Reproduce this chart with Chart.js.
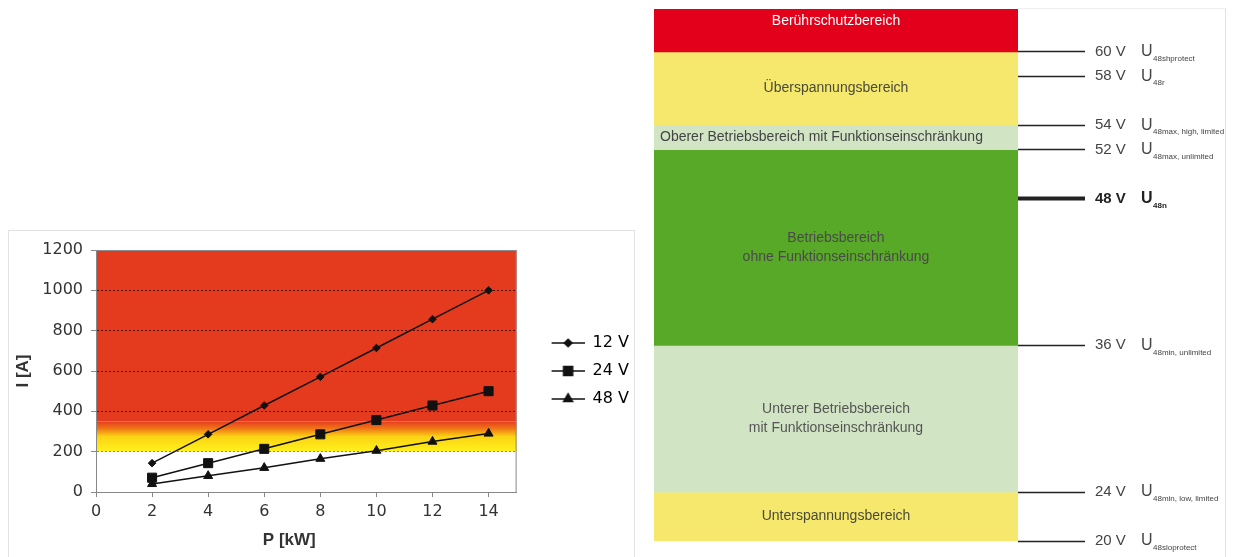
<!DOCTYPE html>
<html>
<head>
<meta charset="utf-8">
<script src="https://cdn.jsdelivr.net/npm/chart.js@4"></script>
<style>
  html, body { margin: 0; padding: 0; background: #fff; width: 1235px; height: 557px; overflow: hidden; }
  #leftBox { position: absolute; left: 8px; top: 230px; width: 625px; height: 340px; border: 1px solid #e3e3e3; }
  #leftWrap { position: absolute; left: 9px; top: 231px; width: 630px; height: 326px; }
  #rightWrap { position: absolute; left: 650px; top: 0; width: 585px; height: 557px; }
  #frame { position: absolute; left: 1018px; top: 8px; width: 207px; height: 560px; border-top: 1px solid #eee; border-right: 1px solid #e2e2e2; }
</style>
</head>
<body>
<div id="leftBox"></div>
<div id="frame"></div>
<div id="leftWrap"><canvas id="currentChart"></canvas></div>
<div id="rightWrap"><canvas id="voltageChart"></canvas></div>
<script>
// left chart: current vs power
const powerKW = [2, 4, 6, 8, 10, 12, 14];
const amps12V = [143, 286, 429, 571, 714, 857, 1000];
const amps24V = [71, 143, 214, 286, 357, 429, 500];
const amps48V = [40, 80, 120, 165, 205, 250, 290];
const seriesNames = ['12 V', '24 V', '48 V'];
const xTicksKW = [0, 2, 4, 6, 8, 10, 12, 14];
const yTicksA = [0, 200, 400, 600, 800, 1000, 1200];

// right chart: 48 V voltage ranges
const bandNames = [
  'Berührschutzbereich',
  'Überspannungsbereich',
  'Oberer Betriebsbereich mit Funktionseinschränkung',
  'Betriebsbereich\nohne Funktionseinschränkung',
  'Unterer Betriebsbereich\nmit Funktionseinschränkung',
  'Unterspannungsbereich'
];
const bandLowV = [60, 54, 52, 36, 24, 20];
const bandHighV = [63.5, 60, 54, 52, 36, 24];
const markerV = [60, 58, 54, 52, 48, 36, 24, 20];
const markerSub = ['48shprotect', '48r', '48max, high, limited', '48max, unlimited', '48n', '48min, unlimited', '48min, low, limited', '48sloprotect'];

const bandColors = ['#e2001a', '#f5e86c', '#d1e5c4', '#58a927', '#d1e5c4', '#f5e86c'];
const bandTextColors = ['#ffffff', '#4a4a3a', '#444', '#4a4a4a', '#555', '#4a4a3a'];

const FONT = "'Liberation Sans', Arial, sans-serif";
const AXIS_FONT = "'DejaVu Sans', sans-serif";
const RED_FROM = 350, YELLOW_TO = 200;

const pointStyles = ['rectRot', 'rect', 'triangle'];
const pointSizes = [3.8, 6.4, 5.2];
const ICON_W = 56;

const makeLegendIcon = (i) => {
  const c = document.createElement('canvas');
  c.width = ICON_W;
  c.height = 14;
  const g = c.getContext('2d');
  const x0 = ICON_W - 33;
  g.strokeStyle = '#111';
  g.lineWidth = 1.5;
  g.beginPath();
  g.moveTo(x0, 7);
  g.lineTo(ICON_W, 7);
  g.stroke();
  g.fillStyle = '#111';
  Chart.helpers.drawPoint(g, { pointStyle: pointStyles[i], radius: pointSizes[i], borderWidth: 1 }, x0 + 16.5, 7);
  g.fill();
  return c;
};

const zoneBg = {
  id: 'zoneBg',
  beforeDraw(chart) {
    const { ctx, chartArea: a, scales: { y } } = chart;
    const yRed = y.getPixelForValue(RED_FROM);
    const yYel = y.getPixelForValue(YELLOW_TO);
    ctx.save();
    ctx.fillStyle = '#e43b1f';
    ctx.fillRect(a.left, a.top, a.width, yRed - a.top);
    const grad = ctx.createLinearGradient(0, yRed, 0, yYel);
    grad.addColorStop(0, '#e43b1f');
    grad.addColorStop(0.25, '#f07a15');
    grad.addColorStop(0.5, '#fbd214');
    grad.addColorStop(1, '#fff21c');
    ctx.fillStyle = grad;
    ctx.fillRect(a.left, yRed, a.width, yYel - yRed);
    ctx.restore();
  },
  beforeDatasetsDraw(chart) {
    const { ctx, chartArea: a } = chart;
    ctx.save();
    ctx.strokeStyle = '#8a8a8a';
    ctx.lineWidth = 1;
    ctx.beginPath();
    ctx.moveTo(a.left, a.top + 0.5);
    ctx.lineTo(a.right - 0.5, a.top + 0.5);
    ctx.lineTo(a.right - 0.5, a.bottom);
    ctx.stroke();
    ctx.restore();
  }
};

const leftSeries = [amps12V, amps24V, amps48V];

new Chart(document.getElementById('currentChart'), {
  type: 'line',
  data: {
    datasets: leftSeries.map((arr, i) => ({
      label: seriesNames[i],
      data: powerKW.map((p, j) => ({ x: p, y: arr[j] })),
      borderColor: '#111',
      backgroundColor: '#111',
      borderWidth: 1.5,
      pointStyle: pointStyles[i],
      pointRadius: pointSizes[i],
      pointBorderWidth: 1,
      tension: 0
    }))
  },
  options: {
    responsive: true,
    maintainAspectRatio: false,
    animation: false,
    layout: { padding: { left: 0, right: 0, top: 19, bottom: 0 } },
    plugins: {
      tooltip: { enabled: false },
      legend: {
        position: 'right',
        align: 'center',
        fullSize: false,
        labels: {
          usePointStyle: true,
          pointStyleWidth: ICON_W,
          padding: 12,
          color: '#333',
          font: { family: AXIS_FONT, size: 16 },
          generateLabels: (chart) => chart.data.datasets.map((ds, i) => ({
            text: ds.label,
            pointStyle: makeLegendIcon(i),
            fillStyle: '#111',
            strokeStyle: '#111',
            lineWidth: 0,
            hidden: false,
            datasetIndex: i
          }))
        }
      }
    },
    scales: {
      x: {
        type: 'linear',
        min: 0,
        max: 15,
        afterBuildTicks: (s) => { s.ticks = xTicksKW.map((v) => ({ value: v })); },
        afterFit: (s) => { s.height = 65; },
        grid: { drawOnChartArea: false, tickLength: 5, tickColor: '#888' },
        border: { color: '#888', width: 1 },
        ticks: { color: '#333', padding: 5, font: { family: AXIS_FONT, size: 16 } },
        title: { display: true, text: 'P [kW]\u2003\u2003', color: '#333', padding: { top: 4, bottom: 6 }, font: { family: FONT, size: 17, weight: 'bold' } }
      },
      y: {
        min: 0,
        max: 1200,
        afterBuildTicks: (s) => { s.ticks = yTicksA.map((v) => ({ value: v })); },
        afterFit: (s) => { s.width = 87; },
        grid: {
          color: (c) => (c.tick.value === 0 || c.tick.value === 1200) ? 'rgba(0,0,0,0)' : (c.tick.value === 200 ? '#8c8c60' : 'rgba(60,5,0,0.9)'),
          lineWidth: 1,
          tickBorderDash: [],
          tickColor: '#888',
          tickLength: 5
        },
        border: { color: '#888', width: 1, dash: [2, 2] },
        ticks: { color: '#333', padding: 8, font: { family: AXIS_FONT, size: 16 }, callback: (v) => String(v) },
        title: { display: true, text: 'I [A]', color: '#333', padding: { top: 4, bottom: 4 }, font: { family: FONT, size: 17, weight: 'bold' } }
      }
    }
  },
  plugins: [zoneBg]
});

// band captions and symbol subscripts on the right chart
const bandText = {
  id: 'bandText',
  afterDatasetsDraw(chart) {
    const { ctx, chartArea: a } = chart;
    ctx.save();
    ctx.font = `14px ${FONT}`;
    ctx.textBaseline = 'middle';
    chart.data.datasets.forEach((ds, i) => {
      const bar = chart.getDatasetMeta(i).data[0];
      const lines = bandNames[i].split('\n');
      let cy = (bar.y + bar.base) / 2;
      if (i === 0) cy = bar.y + 12;
      const x = i === 2 ? a.left + 6 : (a.left + a.right) / 2;
      ctx.textAlign = i === 2 ? 'left' : 'center';
      ctx.fillStyle = bandTextColors[i];
      lines.forEach((ln, k) => {
        ctx.fillText(ln, x, cy + (k - (lines.length - 1) / 2) * 19);
      });
    });
    ctx.restore();
  },
  afterDraw(chart) {
    const { ctx, chartArea: a, scales: { y } } = chart;
    ctx.save();
    ctx.textBaseline = 'middle';
    ctx.textAlign = 'left';
    markerV.forEach((v, i) => {
      const py = y.getPixelForValue(v);
      const bold = v === 48 ? 'bold ' : '';
      ctx.fillStyle = v === 48 ? '#222' : '#444';
      ctx.font = `${bold}16px ${FONT}`;
      ctx.fillText('U', a.right + 123, py);
      ctx.font = `${bold}8px ${FONT}`;
      ctx.fillText(markerSub[i], a.right + 135, py + 7);
    });
    ctx.restore();
  }
};

new Chart(document.getElementById('voltageChart'), {
  type: 'bar',
  data: {
    labels: [''],
    datasets: bandNames.map((name, i) => ({
      label: name,
      data: [[bandLowV[i], bandHighV[i]]],
      backgroundColor: bandColors[i],
      borderWidth: 0,
      barPercentage: 1,
      categoryPercentage: 1
    }))
  },
  options: {
    responsive: true,
    maintainAspectRatio: false,
    animation: false,
    layout: { padding: { left: 4, right: 0, top: 9, bottom: 16 } },
    plugins: { legend: { display: false }, tooltip: { enabled: false } },
    scales: {
      x: { display: false, stacked: true },
      y: {
        position: 'right',
        min: 20,
        max: 63.5,
        afterBuildTicks: (s) => { s.ticks = markerV.map((v) => ({ value: v })); },
        afterFit: (s) => { s.width = 217; s.paddingTop = 0; s.paddingBottom = 0; },
        border: { display: false },
        grid: {
          drawOnChartArea: false,
          tickLength: 67,
          tickColor: '#222',
          tickWidth: (c) => c.tick && c.tick.value === 48 ? 4 : 1.5
        },
        ticks: {
          padding: 10,
          color: (c) => c.tick && c.tick.value === 48 ? '#222' : '#444',
          font: (c) => ({ family: FONT, size: 15, weight: c.tick && c.tick.value === 48 ? 'bold' : 'normal' }),
          callback: (v) => v + ' V'
        }
      }
    }
  },
  plugins: [bandText]
});
</script>
</body>
</html>
